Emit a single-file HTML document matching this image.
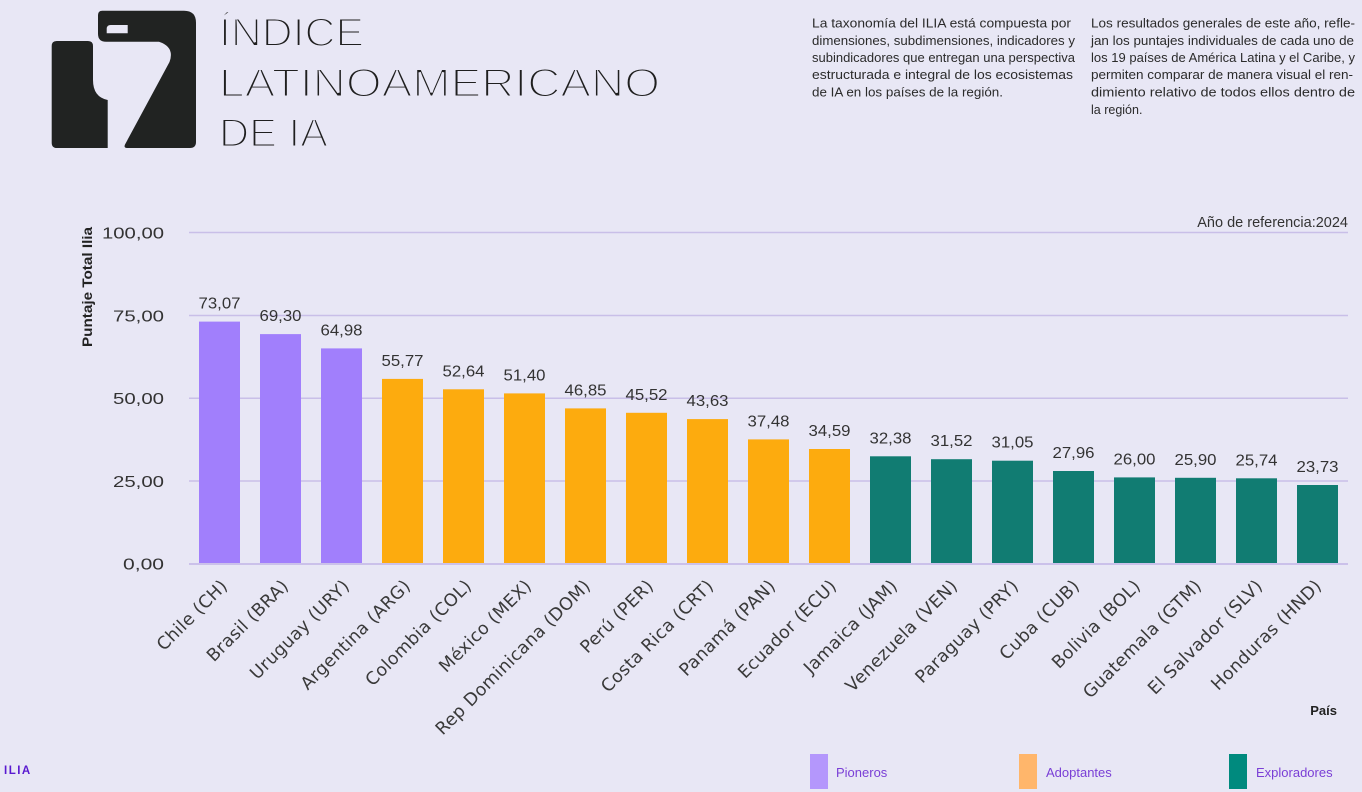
<!DOCTYPE html>
<html>
<head>
<meta charset="utf-8">
<style>
  html,body{margin:0;padding:0;background:#e8e7f5;}
  body{width:1362px;height:792px;overflow:hidden;}
  svg{display:block;}
  .desc{font-family:"Liberation Sans",sans-serif;font-size:12.5px;fill:#2b2b2b;}
  .tick{font-family:"Liberation Sans",sans-serif;font-size:16px;fill:#333;}
  .val{font-family:"Liberation Sans",sans-serif;font-size:16px;fill:#333;}
  .xl{font-family:"DejaVu Sans","Liberation Sans",sans-serif;font-size:17.5px;fill:#3a3a3a;letter-spacing:0.3px;}
  .title{font-family:"Liberation Sans",sans-serif;font-size:40px;fill:#1f1f1f;stroke:#e8e7f5;stroke-width:2px;}
  .leg{font-family:"Liberation Sans",sans-serif;font-size:13px;fill:#7a3fd6;}
</style>
</head>
<body>
<svg width="1362" height="792" viewBox="0 0 1362 792" xmlns="http://www.w3.org/2000/svg">
  <rect x="0" y="0" width="1362" height="792" fill="#e8e7f5"/>

  <!-- Logo -->
  <path d="M51.7,46 Q51.7,41 56.7,41 L88,41 Q93,41 93,46 L93,80 Q93,97 107.7,100 L107.7,148 L57,148 Q51.7,148 51.7,142.7 Z" fill="#212322"/>
  <path d="M98,15 Q98,10.7 102.3,10.7 L184,10.7 Q196,10.7 196,22.7 L196,142 Q196,148 190,148 L127,148 Q123.5,148 125,144.5 L169.5,62 Q175,47 159,41.7 L106,41.7 Q98,41.7 98,33.7 Z" fill="#212322"/>
  <path d="M106.7,33.3 L106.7,29 Q106.7,25 110.7,25 L127.7,25 L127.7,33.3 Z" fill="#e8e7f5"/>

  <!-- Title -->
  <text class="title" x="219" y="46" textLength="145" lengthAdjust="spacingAndGlyphs">ÍNDICE</text>
  <text class="title" x="219" y="96.5" textLength="441" lengthAdjust="spacingAndGlyphs">LATINOAMERICANO</text>
  <text class="title" x="219" y="146.5" textLength="109" lengthAdjust="spacingAndGlyphs">DE IA</text>

  <!-- Description column 1 -->
  <text class="desc" x="812" y="27.5" textLength="259" lengthAdjust="spacingAndGlyphs">La taxonomía del ILIA está compuesta por</text>
  <text class="desc" x="812" y="45" textLength="263" lengthAdjust="spacingAndGlyphs">dimensiones, subdimensiones, indicadores y</text>
  <text class="desc" x="812" y="62" textLength="263" lengthAdjust="spacingAndGlyphs">subindicadores que entregan una perspectiva</text>
  <text class="desc" x="812" y="79" textLength="261" lengthAdjust="spacingAndGlyphs">estructurada e integral de los ecosistemas</text>
  <text class="desc" x="812" y="96.5" textLength="191" lengthAdjust="spacingAndGlyphs">de IA en los países de la región.</text>

  <!-- Description column 2 -->
  <text class="desc" x="1091" y="27.5" textLength="264" lengthAdjust="spacingAndGlyphs">Los resultados generales de este año, refle-</text>
  <text class="desc" x="1091" y="45" textLength="263" lengthAdjust="spacingAndGlyphs">jan los puntajes individuales de cada uno de</text>
  <text class="desc" x="1091" y="62" textLength="264" lengthAdjust="spacingAndGlyphs">los 19 países de América Latina y el Caribe, y</text>
  <text class="desc" x="1091" y="79" textLength="262" lengthAdjust="spacingAndGlyphs">permiten comparar de manera visual el ren-</text>
  <text class="desc" x="1091" y="96.5" textLength="264" lengthAdjust="spacingAndGlyphs">dimiento relativo de todos ellos dentro de</text>
  <text class="desc" x="1091" y="114">la región.</text>

  <!-- Año de referencia -->
  <text x="1348" y="227" text-anchor="end" font-family="Liberation Sans, sans-serif" font-size="14.5" fill="#333">Año de referencia:2024</text>

  <!-- Y axis title -->
  <text transform="translate(92,287) rotate(-90)" text-anchor="middle" font-family="Liberation Sans, sans-serif" font-weight="bold" font-size="14" fill="#222" textLength="120" lengthAdjust="spacingAndGlyphs">Puntaje Total Ilia</text>

  <!-- Gridlines -->
  <g stroke="#c9bfe8" stroke-width="1.5">
    <line x1="189" y1="232.5" x2="1348" y2="232.5"/>
    <line x1="189" y1="315.5" x2="1348" y2="315.5"/>
    <line x1="189" y1="398.2" x2="1348" y2="398.2"/>
    <line x1="189" y1="481" x2="1348" y2="481"/>
  </g>

  <!-- Y tick labels -->
  <text class="tick" x="164" y="238.5" text-anchor="end" textLength="62" lengthAdjust="spacingAndGlyphs">100,00</text>
  <text class="tick" x="164" y="321.5" text-anchor="end" textLength="51" lengthAdjust="spacingAndGlyphs">75,00</text>
  <text class="tick" x="164" y="404" text-anchor="end" textLength="51" lengthAdjust="spacingAndGlyphs">50,00</text>
  <text class="tick" x="164" y="487" text-anchor="end" textLength="51" lengthAdjust="spacingAndGlyphs">25,00</text>
  <text class="tick" x="164" y="569.5" text-anchor="end" textLength="41" lengthAdjust="spacingAndGlyphs">0,00</text>

  <!-- Bars -->
  <g>
    <rect x="199" y="321.6" width="41" height="241.9" fill="#a17ffc"/>
    <rect x="260" y="334.1" width="41" height="229.4" fill="#a17ffc"/>
    <rect x="321" y="348.4" width="41" height="215.1" fill="#a17ffc"/>
    <rect x="382" y="378.9" width="41" height="184.6" fill="#fdab0e"/>
    <rect x="443" y="389.3" width="41" height="174.2" fill="#fdab0e"/>
    <rect x="504" y="393.4" width="41" height="170.1" fill="#fdab0e"/>
    <rect x="565" y="408.4" width="41" height="155.1" fill="#fdab0e"/>
    <rect x="626" y="412.8" width="41" height="150.7" fill="#fdab0e"/>
    <rect x="687" y="419.1" width="41" height="144.4" fill="#fdab0e"/>
    <rect x="748" y="439.4" width="41" height="124.1" fill="#fdab0e"/>
    <rect x="809" y="449.0" width="41" height="114.5" fill="#fdab0e"/>
    <rect x="870" y="456.3" width="41" height="107.2" fill="#117c72"/>
    <rect x="931" y="459.2" width="41" height="104.3" fill="#117c72"/>
    <rect x="992" y="460.7" width="41" height="102.8" fill="#117c72"/>
    <rect x="1053" y="471.0" width="41" height="92.5" fill="#117c72"/>
    <rect x="1114" y="477.4" width="41" height="86.1" fill="#117c72"/>
    <rect x="1175" y="477.8" width="41" height="85.7" fill="#117c72"/>
    <rect x="1236" y="478.3" width="41" height="85.2" fill="#117c72"/>
    <rect x="1297" y="485.0" width="41" height="78.5" fill="#117c72"/>
  </g>

  <!-- Baseline -->
  <line x1="189" y1="564" x2="1348" y2="564" stroke="#cbc1ea" stroke-width="2"/>

  <!-- Value labels -->
  <g class="val" text-anchor="middle">
    <text class="val" x="219.5" y="308.6" textLength="42" lengthAdjust="spacingAndGlyphs">73,07</text>
    <text class="val" x="280.5" y="321.1" textLength="42" lengthAdjust="spacingAndGlyphs">69,30</text>
    <text class="val" x="341.5" y="335.4" textLength="42" lengthAdjust="spacingAndGlyphs">64,98</text>
    <text class="val" x="402.5" y="365.9" textLength="42" lengthAdjust="spacingAndGlyphs">55,77</text>
    <text class="val" x="463.5" y="376.3" textLength="42" lengthAdjust="spacingAndGlyphs">52,64</text>
    <text class="val" x="524.5" y="380.4" textLength="42" lengthAdjust="spacingAndGlyphs">51,40</text>
    <text class="val" x="585.5" y="395.4" textLength="42" lengthAdjust="spacingAndGlyphs">46,85</text>
    <text class="val" x="646.5" y="399.8" textLength="42" lengthAdjust="spacingAndGlyphs">45,52</text>
    <text class="val" x="707.5" y="406.1" textLength="42" lengthAdjust="spacingAndGlyphs">43,63</text>
    <text class="val" x="768.5" y="426.4" textLength="42" lengthAdjust="spacingAndGlyphs">37,48</text>
    <text class="val" x="829.5" y="436.0" textLength="42" lengthAdjust="spacingAndGlyphs">34,59</text>
    <text class="val" x="890.5" y="443.3" textLength="42" lengthAdjust="spacingAndGlyphs">32,38</text>
    <text class="val" x="951.5" y="446.2" textLength="42" lengthAdjust="spacingAndGlyphs">31,52</text>
    <text class="val" x="1012.5" y="447.7" textLength="42" lengthAdjust="spacingAndGlyphs">31,05</text>
    <text class="val" x="1073.5" y="458.0" textLength="42" lengthAdjust="spacingAndGlyphs">27,96</text>
    <text class="val" x="1134.5" y="464.4" textLength="42" lengthAdjust="spacingAndGlyphs">26,00</text>
    <text class="val" x="1195.5" y="464.8" textLength="42" lengthAdjust="spacingAndGlyphs">25,90</text>
    <text class="val" x="1256.5" y="465.3" textLength="42" lengthAdjust="spacingAndGlyphs">25,74</text>
    <text class="val" x="1317.5" y="472.0" textLength="42" lengthAdjust="spacingAndGlyphs">23,73</text>
  </g>

  <!-- X labels -->
  <g class="xl" text-anchor="end">
    <text transform="translate(228.5,587) rotate(-45)">Chile (CH)</text>
    <text transform="translate(289.5,587) rotate(-45)">Brasil (BRA)</text>
    <text transform="translate(350.5,587) rotate(-45)">Uruguay (URY)</text>
    <text transform="translate(411.5,587) rotate(-45)">Argentina (ARG)</text>
    <text transform="translate(472.5,587) rotate(-45)">Colombia (COL)</text>
    <text transform="translate(532.5,587) rotate(-45)">México (MEX)</text>
    <text transform="translate(591.5,587) rotate(-45)">Rep Dominicana (DOM)</text>
    <text transform="translate(654.5,587) rotate(-45)">Perú (PER)</text>
    <text transform="translate(714.5,587) rotate(-45)">Costa Rica (CRT)</text>
    <text transform="translate(776.5,587) rotate(-45)">Panamá (PAN)</text>
    <text transform="translate(837.5,587) rotate(-45)">Ecuador (ECU)</text>
    <text transform="translate(898.5,587) rotate(-45)">Jamaica (JAM)</text>
    <text transform="translate(958.5,587) rotate(-45)">Venezuela (VEN)</text>
    <text transform="translate(1019.5,587) rotate(-45)">Paraguay (PRY)</text>
    <text transform="translate(1080.5,587) rotate(-45)">Cuba (CUB)</text>
    <text transform="translate(1141.5,587) rotate(-45)">Bolivia (BOL)</text>
    <text transform="translate(1202.5,587) rotate(-45)">Guatemala (GTM)</text>
    <text transform="translate(1263.5,587) rotate(-45)">El Salvador (SLV)</text>
    <text transform="translate(1322.5,587) rotate(-45)">Honduras (HND)</text>
  </g>

  <!-- X axis title -->
  <text x="1337" y="715" text-anchor="end" font-family="Liberation Sans, sans-serif" font-weight="bold" font-size="13" fill="#222">País</text>

  <!-- Legend -->
  <rect x="810" y="754" width="18" height="35" fill="#b497fc"/>
  <text class="leg" x="836" y="777">Pioneros</text>
  <rect x="1019" y="754" width="18" height="35" fill="#ffb66b"/>
  <text class="leg" x="1046" y="777">Adoptantes</text>
  <rect x="1229" y="754" width="18" height="35" fill="#008a7e"/>
  <text class="leg" x="1256" y="777">Exploradores</text>

  <!-- Bottom-left ILIA -->
  <text x="4" y="774" font-family="Liberation Sans, sans-serif" font-weight="bold" font-size="11.5" fill="#5a1ad0" letter-spacing="1.5">ILIA</text>
</svg>
</body>
</html>
